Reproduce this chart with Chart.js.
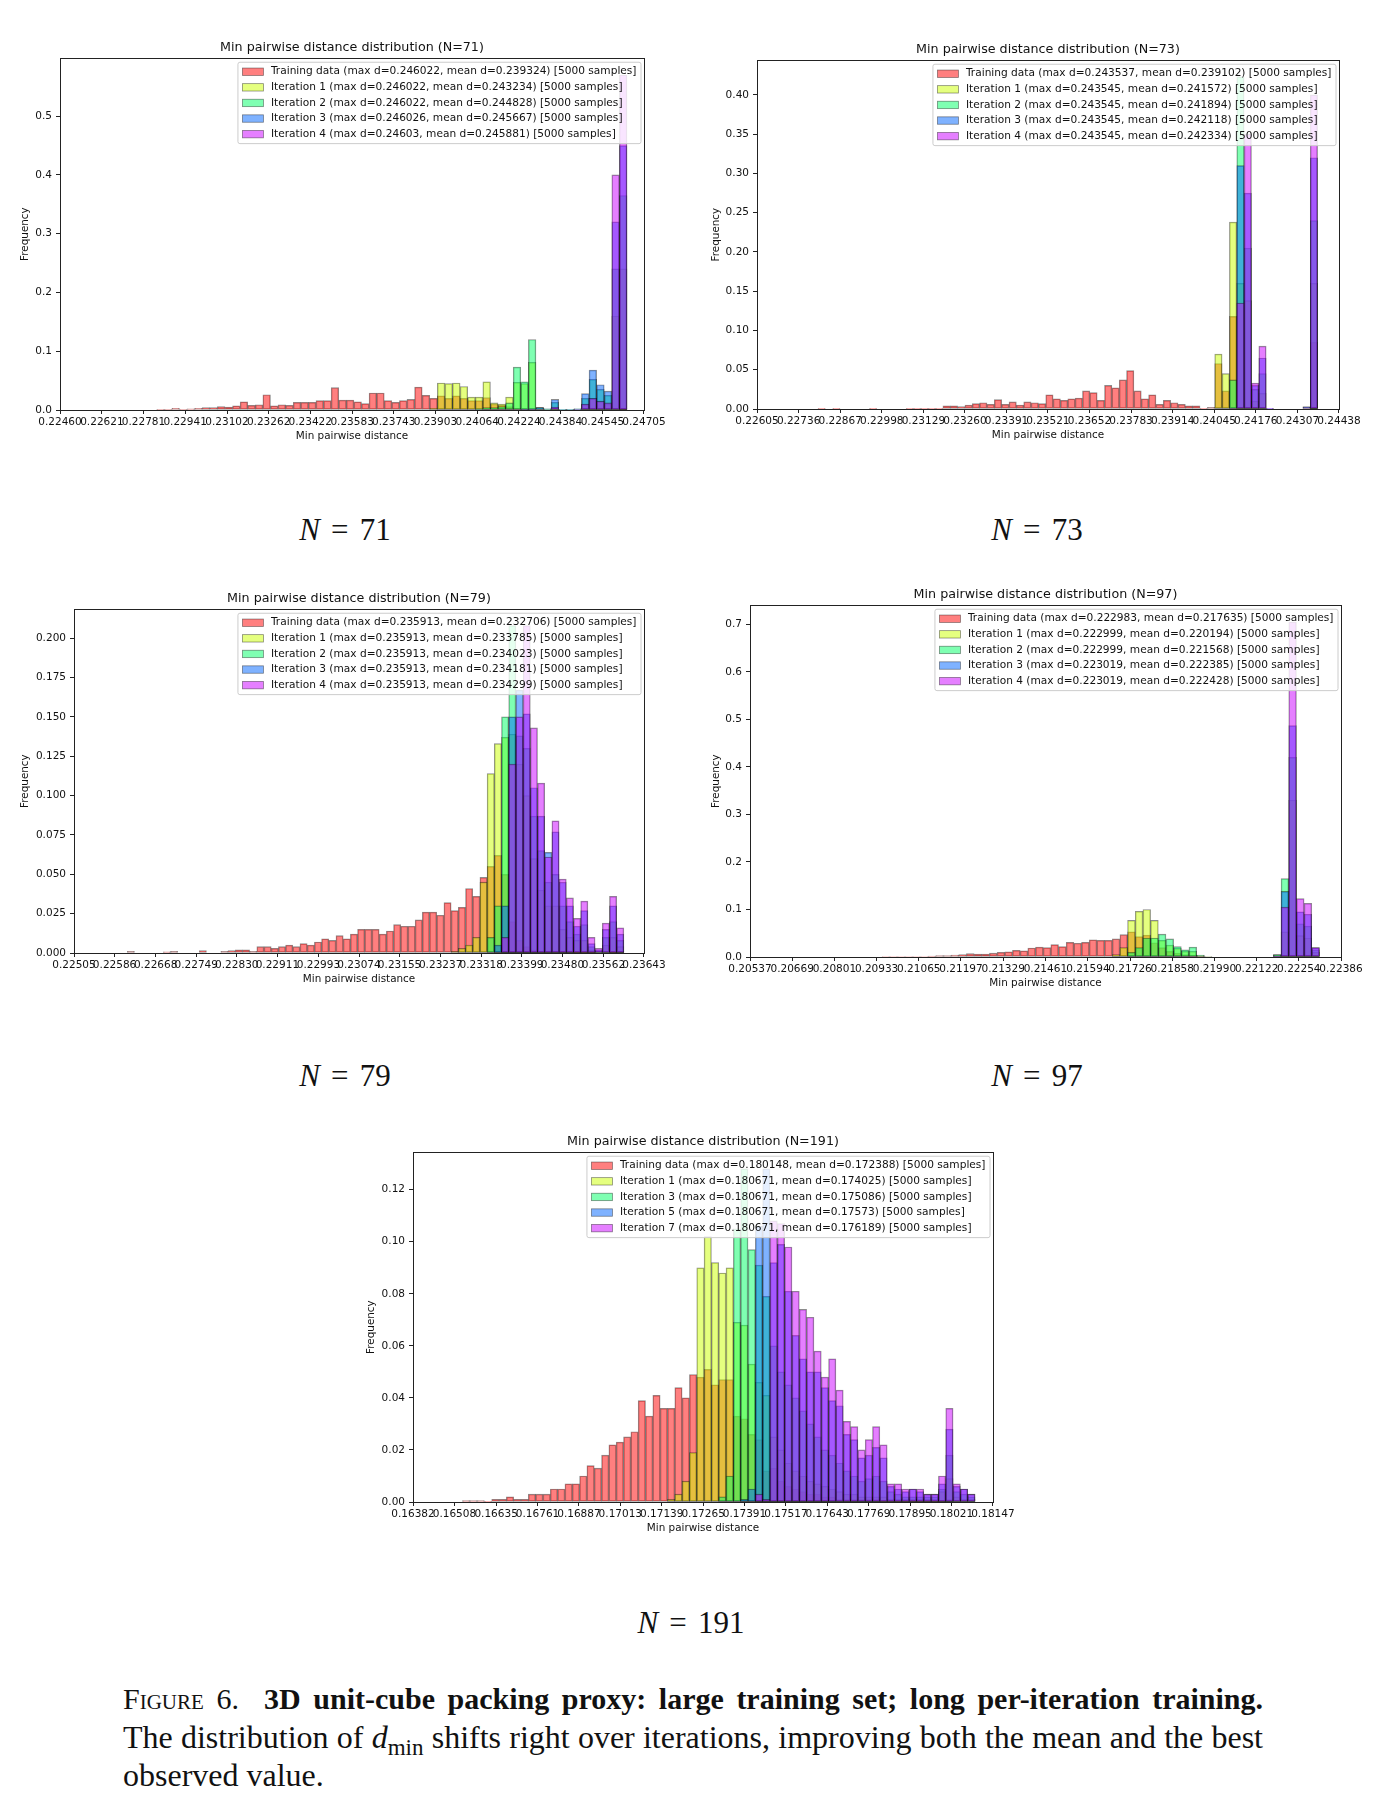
<!DOCTYPE html>
<html>
<head>
<meta charset="utf-8">
<script src="https://cdn.jsdelivr.net/npm/chart.js@4.4.1/dist/chart.umd.min.js"></script>
<style>
  body { margin: 0; background: #fff; width: 1385px; height: 1809px; position: relative; overflow: hidden; }
  canvas { position: absolute; }
  .nlab { position: absolute; font-family: "Liberation Serif", "DejaVu Serif", serif; font-size: 31px; color: #111;
          transform: translate(-50%, -50%); white-space: nowrap; }
  .nlab .eq { margin: 0 0.36em; }
  .cap { position: absolute; left: 123px; top: 1680px; width: 1140px; font-family: "Liberation Serif", serif;
         font-size: 32px; line-height: 38px; color: #111; }
  .cap .j { text-align: justify; text-align-last: justify; }
  .cap .first { font-size: 30px; }
  .cap .sc { font-variant: small-caps; }
  .cap sub { font-size: 0.72em; vertical-align: -0.3em; line-height: 0; }
</style>
</head>
<body>
<canvas id="c71"></canvas>
<canvas id="c73"></canvas>
<canvas id="c79"></canvas>
<canvas id="c97"></canvas>
<canvas id="c191"></canvas>

<div class="nlab" style="left:345px;top:530px"><i>N</i><span class="eq">=</span>71</div>
<div class="nlab" style="left:1037px;top:530px"><i>N</i><span class="eq">=</span>73</div>
<div class="nlab" style="left:345px;top:1076px"><i>N</i><span class="eq">=</span>79</div>
<div class="nlab" style="left:1037px;top:1076px"><i>N</i><span class="eq">=</span>97</div>
<div class="nlab" style="left:691px;top:1623px"><i>N</i><span class="eq">=</span>191</div>

<div class="cap">
  <div class="j first"><span class="sc">Figure 6.</span>&nbsp; <b>3D unit-cube packing proxy: large training set; long per-iteration training.</b></div>
  <div class="j">The distribution of <i>d</i><sub>min</sub> shifts right over iterations, improving both the mean and the best</div>
  <div>observed value.</div>
</div>

<script>
// each histogram: shared bins (left edge of bin 0 and bin width, in units of d),
// series given as first bin index + frequencies of consecutive bins

// ---------- N = 71 ----------
const bins71 = { firstEdge: 0.225984, width: 0.0002916 };
const dRange71 = [0.22562, 0.24603];
const xTicks71 = [0.22460, 0.22621, 0.22781, 0.22941, 0.23102, 0.23262, 0.23422, 0.23583, 0.23743, 0.23903, 0.24064, 0.24224, 0.24384, 0.24545, 0.24705];
const yTicks71 = [0, 0.1, 0.2, 0.3, 0.4, 0.5];
const names71 = ['Training data', 'Iteration 1', 'Iteration 2', 'Iteration 3', 'Iteration 4'];
const maxD71 = [0.246022, 0.246022, 0.246022, 0.246026, 0.24603];
const meanD71 = [0.239324, 0.243234, 0.244828, 0.245667, 0.245881];
const train71 = { start: 8, freq: [0.001,0.001,0.003,0.001,0.002,0.003,0.004,0.004,0.006,0.005,0.007,
  0.014,0.008,0.009,0.026,0.007,0.009,0.008,0.013,0.013,0.013,0.016,0.016,
  0.038,0.017,0.017,0.014,0.011,0.029,0.029,0.016,0.013,0.016,0.018,
  0.039,0.025,0.020, 0.024,0.020,0.024,0.020,0.016,0.016,0.021, 0.010,0.008,0.006,0.003,0.002,0.001,
  0,0,0,0,0,0,0,0,0,0,0,0.002] };
const iter1_71 = { start: 44, freq: [0.003,0.046,0.045,0.046,0.040,0.022,0.022,0.048,0.012,0.010,0.022,0.047,0.045,0.081,0.004,0.001,0.002,0,0,0,0.010,0.020,0.015,0.010,0.16,0.24] };
const iter2_71 = { start: 50, freq: [0.002,0.004,0.004,0.006,0.012,0.073,0.048,0.12,0.004,0.002,0.013,0.001,0.001,0.002,0.020,0.052,0.035,0.025,0.24,0.365] };
const iter3_71 = { start: 56, freq: [0.001,0.002,0.004,0.002,0.018,0.001,0.001,0.002,0.028,0.068,0.043,0.032,0.32,0.45] };
const iter4_71 = { start: 60, freq: [0.005,0,0,0.001,0.010,0.020,0.015,0.012,0.40,0.57] };

// ---------- N = 73 ----------
const bins73 = { firstEdge: 0.227045, width: 0.0002314 };
const dRange73 = [0.226883, 0.243547];
const xTicks73 = [0.22605, 0.22736, 0.22867, 0.22998, 0.23129, 0.23260, 0.23391, 0.23521, 0.23652, 0.23783, 0.23914, 0.24045, 0.24176, 0.24307, 0.24438];
const yTicks73 = [0, 0.05, 0.10, 0.15, 0.20, 0.25, 0.30, 0.35, 0.40];
const names73 = ['Training data', 'Iteration 1', 'Iteration 2', 'Iteration 3', 'Iteration 4'];
const maxD73 = [0.243537, 0.243545, 0.243545, 0.243545, 0.243545];
const meanD73 = [0.239102, 0.241572, 0.241894, 0.242118, 0.242334];
const train73 = { start: 4, freq: [0.0005,0,0.0005,0,0,0,0,0.0005,0,0,0,0,
  0.001,0.001,0.001,0.001,0.0005,
  0.004,0.004,0.003,0.005,0.007,0.008,0.006,0.012,0.006,0.009,0.005,0.009,0.008,0.007,
  0.018,0.013,0.011,0.013,0.014,0.023,0.021,0.011,0.030,0.027,0.037,
  0.049,0.023,0.013,0.018,0.006,0.011,0.008,0.006,0.004,0.004,0.001,0.002,
  0.058,0.023,0.118,0,0,0,0,0,0,0,0,0,0,0.085] };
const iter1_73 = { start: 58, freq: [0.070,0.045,0.238,0.16,0.138,0.010,0.020,0,0,0,0,0,0,0.16] };
const iter2_73 = { start: 60, freq: [0.037,0.423,0.205,0.025,0.045,0,0,0,0,0,0,0.24] };
const iter3_73 = { start: 61, freq: [0.31,0.275,0.030,0.065,0.001,0,0,0,0,0.003,0.32] };
const iter4_73 = { start: 61, freq: [0.135,0.35,0.033,0.080,0.001,0,0,0,0,0.002,0.40] };

// ---------- N = 79 ----------
const bins79 = { firstEdge: 0.225682, width: 0.0001437 };
const dRange79 = [0.225567, 0.235913];
const xTicks79 = [0.22505, 0.22586, 0.22668, 0.22749, 0.22830, 0.22911, 0.22993, 0.23074, 0.23155, 0.23237, 0.23318, 0.23399, 0.23480, 0.23562, 0.23643];
const yTicks79 = [0, 0.025, 0.050, 0.075, 0.100, 0.125, 0.150, 0.175, 0.200];
const names79 = ['Training data', 'Iteration 1', 'Iteration 2', 'Iteration 3', 'Iteration 4'];
const maxD79 = [0.235913, 0.235913, 0.235913, 0.235913, 0.235913];
const meanD79 = [0.232706, 0.233785, 0.234023, 0.234181, 0.234299];
const train79 = { start: 3, freq: [0.001,0,0,0,0,0.0007,0.001,0,0,0,0.0015,0,0,0.001,0.0015,0.002,0.002,0.001,
  0.004,0.004,0.003,0.004,0.005,0.004,0.006,0.005,0.007,0.009,0.008,0.011,0.009,0.012,0.015,0.015,0.015,0.012,0.014,0.018,0.017,0.017,
  0.021,0.026,0.026,0.024,0.032,0.027,0.029,0.041,0.036,0.048,
  0.055,0.062,0.050,0.020,0.008,0.004,0.002,0.001,0.001,0.001,0.001,0.001,0.0005,0.0005,0.0005,0,0,0.0005,0.001] };
const iter1_79 = { start: 48, freq: [0.001,0.003,0.005,0.010,0.045,0.114,0.133,0.137,0.139,0.12,0.10,0.06,0.04,0.03,0.03,0.015,0.010,0.008,0.008,0.002,0.001,0.005,0.010,0.004] };
const iter2_79 = { start: 53, freq: [0.010,0.030,0.15,0.208,0.138,0.13,0.087,0.065,0.045,0.050,0.030,0.020,0.012,0.018,0.004,0.001,0.010,0.020,0.008] };
const iter3_79 = { start: 54, freq: [0.005,0.030,0.15,0.167,0.152,0.105,0.087,0.064,0.077,0.045,0.030,0.017,0.027,0.006,0.002,0.015,0.030,0.012] };
const iter4_79 = { start: 55, freq: [0.010,0.12,0.15,0.208,0.143,0.108,0.061,0.084,0.047,0.035,0.022,0.033,0.010,0.003,0.019,0.036,0.016] };

// ---------- N = 97 ----------
const bins97 = { firstEdge: 0.206378, width: 0.0002401 };
const dRange97 = [0.20621, 0.223019];
const xTicks97 = [0.20537, 0.20669, 0.20801, 0.20933, 0.21065, 0.21197, 0.21329, 0.21461, 0.21594, 0.21726, 0.21858, 0.21990, 0.22122, 0.22254, 0.22386];
const yTicks97 = [0, 0.1, 0.2, 0.3, 0.4, 0.5, 0.6, 0.7];
const names97 = ['Training data', 'Iteration 1', 'Iteration 2', 'Iteration 3', 'Iteration 4'];
const maxD97 = [0.222983, 0.222999, 0.222999, 0.223019, 0.223019];
const meanD97 = [0.217635, 0.220194, 0.221568, 0.222385, 0.222428];
const train97 = { start: 13, freq: [0.001,0.001,0.001,0.001,0.001,0.001,
  0.002,0.003,0.003,0.004,0.005,0.007,0.006,0.006,0.008,0.010,0.011,0.014,0.013,0.019,0.021,0.020,0.026,0.022,0.031,0.029,0.031,0.036,0.035,0.035,0.038,0.047,
  0.053,0.043,0.046,0.030,0.020,0.012,0.008,0.005,0.004,0.002,0.001] };
const iter1_97 = { start: 43, freq: [0.005,0.020,0.077,0.096,0.100,0.077,0.035,0.025,0.018,0.012,0.012,0.003,0,0,0,0,0,0,0,0,0,0.005,0.053,0.33,0.045,0.040,0.010] };
const iter2_97 = { start: 45, freq: [0.010,0.020,0.040,0.040,0.048,0.038,0.022,0.015,0.021,0.004,0.001,0,0,0,0,0,0,0,0,0.005,0.165,0.42,0.070,0.065,0.015] };
const iter3_97 = { start: 64, freq: [0.003,0.138,0.487,0.095,0.090,0.020] };
const iter4_97 = { start: 64, freq: [0.002,0.105,0.705,0.123,0.113,0.020] };

// ---------- N = 191 ----------
const bins191 = { firstEdge: 0.164878, width: 0.0002229 };
const dRange191 = [0.164622, 0.180671];
const xTicks191 = [0.16382, 0.16508, 0.16635, 0.16761, 0.16887, 0.17013, 0.17139, 0.17265, 0.17391, 0.17517, 0.17643, 0.17769, 0.17895, 0.18021, 0.18147];
const yTicks191 = [0, 0.02, 0.04, 0.06, 0.08, 0.10, 0.12];
const names191 = ['Training data', 'Iteration 1', 'Iteration 3', 'Iteration 5', 'Iteration 7'];
const maxD191 = [0.180148, 0.180671, 0.180671, 0.180671, 0.180671];
const meanD191 = [0.172388, 0.174025, 0.175086, 0.17573, 0.176189];
const train191 = { start: 2, freq: [0.0005,0.0005,0.0005,0.0003,0.001,0.001,0.002,0.001,0.001,0.003,
  0.003,0.003,0.005,0.005,0.007,0.007,0.010,0.014,0.013,0.018,
  0.022,0.023,0.025,0.027,0.039,0.033,0.041,0.036,0.036,0.044,
  0.040,0.049,0.048,0.051,0.045,0.047,0.047,0.033,0.032,0.026,
  0.024,0.012,0.013,0.008,0.006,0.005,0.004,0.003,0.003,0.002,
  0.002,0.001,0.001,0.001,0.001,0.001,0.001,0.0005,0.0005,0.0005,
  0.0005,0.0005,0.0005,0.0005,0.0005,0.0005,0.001] };
const iter1_191 = { start: 30, freq: [0.001,0.003,0.008,0.019,0.090,0.102,0.092,0.088,0.090,0.069,0.068,0.053,0.046,0.041,
  0.025,0.020,0.015,0.012,0.010,0.008,0.007,0.006,0.005,0.004,
  0.003,0.003,0.002,0.002,0.002,0.002,0.001,0.001,0.001,0.001,0.001,0.001,0.001,0.004,0.009,0.002,0.001,0.001] };
const iter3_191 = { start: 37, freq: [0.002,0.010,0.105,0.128,0.097,0.091,0.079,
  0.060,0.050,0.045,0.040,0.035,0.030,0.025,0.020,0.018,0.015,
  0.012,0.010,0.008,0.009,0.010,0.008,0.004,0.003,0.002,0.002,0.002,0.002,0.002,0.005,0.018,0.004,0.003,0.002] };
const iter5_191 = { start: 40, freq: [0.001,0.005,0.106,0.128,0.092,0.099,0.081,0.064,0.055,0.050,0.050,0.044,
  0.039,0.037,0.026,0.024,0.017,0.018,0.021,0.017,0.006,0.005,
  0.004,0.005,0.004,0.003,0.003,0.007,0.028,0.006,0.005,0.003] };
const iter7_191 = { start: 42, freq: [0.003,0.001,0.108,0.107,0.098,0.081,0.074,0.071,0.058,0.048,
  0.055,0.043,0.031,0.029,0.020,0.024,0.029,0.022,0.007,0.007,
  0.005,0.005,0.005,0.003,0.003,0.010,0.036,0.007,0.005,0.003] };

// ---------- look ----------
const FONT = '"DejaVu Sans", "Liberation Sans", sans-serif';
const INK = '#111';
const fills = ['rgba(255,0,0,0.5)', 'rgba(204,255,0,0.5)', 'rgba(0,255,102,0.5)', 'rgba(0,102,255,0.5)', 'rgba(204,0,255,0.5)'];
const edge = 'rgba(0,0,0,0.45)';

// matplotlib-like closed frame around the axes
const framePlugin = {
  id: 'frame',
  afterDatasetsDraw(chart) {
    const { ctx, chartArea: a } = chart;
    ctx.save();
    ctx.strokeStyle = '#222';
    ctx.lineWidth = 1;
    ctx.strokeRect(Math.round(a.left) + 0.5, Math.round(a.top) + 0.5, Math.round(a.right - a.left), Math.round(a.bottom - a.top));
    ctx.restore();
  }
};

// legend box in the upper right corner inside the axes
const boxLegend = {
  id: 'boxLegend',
  afterDraw(chart) {
    const { ctx, chartArea: a } = chart;
    const sets = chart.data.datasets;
    const fs = 10.6, pad = 4.5, hw = 21, gap = 7.5, pitch = 15.6, first = 9.5;
    ctx.save();
    ctx.font = fs + 'px ' + FONT;
    const tw = Math.max(...sets.map(d => ctx.measureText(d.label).width));
    const w = pad + hw + gap + tw + pad;
    const h = first * 2 + pitch * (sets.length - 1);
    const x = a.right - 3 - w, y = a.top + 4;
    ctx.beginPath();
    if (ctx.roundRect) ctx.roundRect(x, y, w, h, 2); else ctx.rect(x, y, w, h);
    ctx.fillStyle = 'rgba(255,255,255,0.8)';
    ctx.fill();
    ctx.strokeStyle = '#cccccc';
    ctx.lineWidth = 1;
    ctx.stroke();
    ctx.textBaseline = 'middle';
    sets.forEach((d, i) => {
      const cy = y + first + i * pitch;
      ctx.fillStyle = d.backgroundColor;
      ctx.fillRect(x + pad, cy - 3.7, hw, 7.4);
      ctx.strokeStyle = d.borderColor;
      ctx.lineWidth = 0.8;
      ctx.strokeRect(x + pad, cy - 3.7, hw, 7.4);
      ctx.fillStyle = INK;
      ctx.fillText(d.label, x + pad + hw + gap, cy);
    });
    ctx.restore();
  }
};

function buildSets(series, names, maxD, meanD, bins) {
  return series.map((s, k) => ({
    label: `${names[k]} (max d=${maxD[k]}, mean d=${meanD[k]}) [5000 samples]`,
    data: s.freq.map((v, j) => ({ x: bins.firstEdge + (s.start + j + 0.5) * bins.width, y: v })).filter(p => p.y > 0),
    backgroundColor: fills[k],
    borderColor: edge,
    borderWidth: 0.8,
    borderSkipped: false,
    grouped: false,
    barPercentage: 1,
    categoryPercentage: 1,
    order: series.length - k
  }));
}

const yAxisW = 60, titleH = 18, xAxisH = 34, rightPad = 26;

function drawHist(id, box, title, bins, series, names, maxD, meanD, range, xTicks, yTicks, yDec, yTitleGap) {
  const cv = document.getElementById(id);
  const plotW = box.r - box.l, plotH = box.b - box.t;
  cv.width = plotW + yAxisW + rightPad;
  cv.height = plotH + titleH + xAxisH;
  cv.style.left = (box.l - yAxisW) + 'px';
  cv.style.top = (box.t - titleH) + 'px';

  const span = range[1] - range[0];
  const peak = Math.max(...series.flatMap(s => s.freq));
  const tickGrid = { display: true, drawOnChartArea: false, drawTicks: true, tickLength: 4, color: '#222', offset: false };

  new Chart(cv, {
    type: 'bar',
    data: { datasets: buildSets(series, names, maxD, meanD, bins) },
    options: {
      responsive: false,
      animation: false,
      layout: { padding: { left: 0, right: rightPad, top: 0, bottom: 0 } },
      plugins: {
        legend: { display: false },
        tooltip: { enabled: false },
        title: { display: true, text: title, color: INK, fullSize: false,
                 font: { family: FONT, size: 12.7, weight: 'normal', lineHeight: 1.2 }, padding: { top: 0, bottom: 3 } }
      },
      scales: {
        x: {
          type: 'linear',
          min: range[0] - 0.05 * span,
          max: range[1] + 0.05 * span,
          offset: false,
          grid: tickGrid,
          border: { display: false },
          afterBuildTicks: ax => { ax.ticks = xTicks.map(v => ({ value: v })); },
          afterFit: ax => { ax.height = xAxisH; },
          ticks: { autoSkip: false, maxRotation: 0, minRotation: 0, padding: 2, color: INK,
                   font: { family: FONT, size: 10.5 }, callback: v => v.toFixed(5) },
          title: { display: true, text: 'Min pairwise distance', color: INK,
                   font: { family: FONT, size: 10.4, lineHeight: 1.2 }, padding: { top: 0, bottom: 1.8 } }
        },
        y: {
          min: 0,
          max: peak * 1.05,
          grid: tickGrid,
          border: { display: false },
          afterBuildTicks: ax => { ax.ticks = yTicks.map(v => ({ value: v })); },
          afterFit: ax => { ax.width = yAxisW; },
          ticks: { padding: 4, color: INK, font: { family: FONT, size: 10.5 }, callback: v => v.toFixed(yDec) },
          title: { display: true, text: 'Frequency', color: INK,
                   font: { family: FONT, size: 10.4, lineHeight: 1.2 }, padding: { top: yAxisW - 6.24 - yTitleGap, bottom: 0 } }
        }
      }
    },
    plugins: [framePlugin, boxLegend]
  });
}

drawHist('c71', { l: 60, t: 58, r: 644, b: 410 }, 'Min pairwise distance distribution (N=71)', bins71,
  [train71, iter1_71, iter2_71, iter3_71, iter4_71], names71, maxD71, meanD71, dRange71, xTicks71, yTicks71, 1, 34.6);
drawHist('c73', { l: 757, t: 60, r: 1339, b: 409 }, 'Min pairwise distance distribution (N=73)', bins73,
  [train73, iter1_73, iter2_73, iter3_73, iter4_73], names73, maxD73, meanD73, dRange73, xTicks73, yTicks73, 2, 40.3);
drawHist('c79', { l: 74, t: 609, r: 644, b: 953 }, 'Min pairwise distance distribution (N=79)', bins79,
  [train79, iter1_79, iter2_79, iter3_79, iter4_79], names79, maxD79, meanD79, dRange79, xTicks79, yTicks79, 3, 48.6);
drawHist('c97', { l: 750, t: 605, r: 1341, b: 957 }, 'Min pairwise distance distribution (N=97)', bins97,
  [train97, iter1_97, iter2_97, iter3_97, iter4_97], names97, maxD97, meanD97, dRange97, xTicks97, yTicks97, 1, 33.3);
drawHist('c191', { l: 413, t: 1152, r: 993, b: 1502 }, 'Min pairwise distance distribution (N=191)', bins191,
  [train191, iter1_191, iter3_191, iter5_191, iter7_191], names191, maxD191, meanD191, dRange191, xTicks191, yTicks191, 2, 41.4);
</script>
</body>
</html>
